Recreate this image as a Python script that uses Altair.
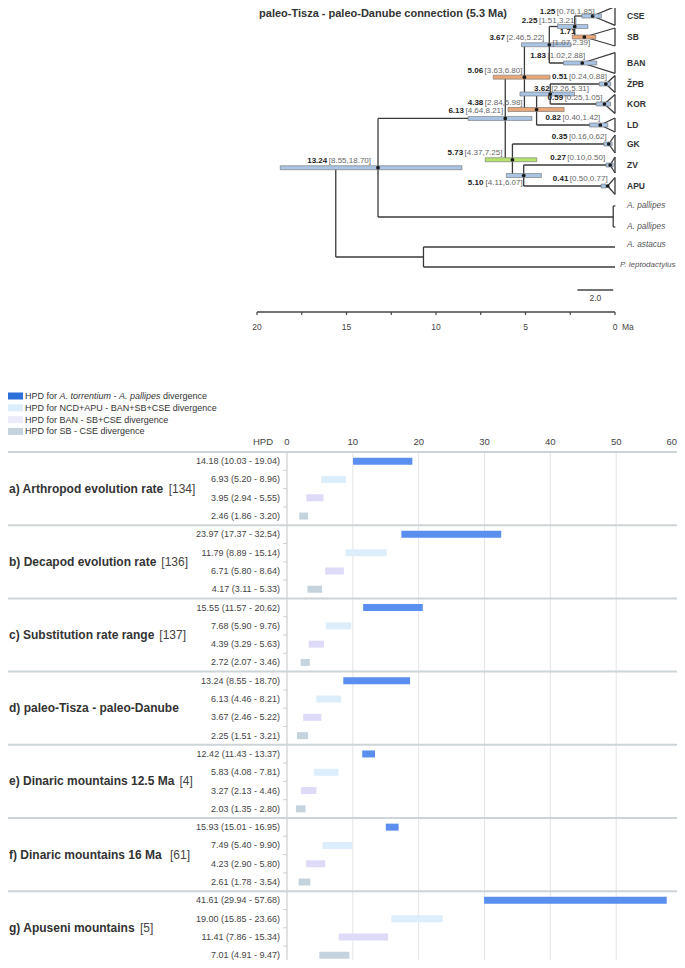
import altair as alt
import pandas as pd

FONT = "Liberation Sans"
W, H = 669, 952

# ---------------- tree data ----------------
clade_names = ["CSE", "SB", "BAN", "ŽPB", "KOR", "LD", "GK", "ZV", "APU"]
clade_age = [1.25, 1.71, 1.83, 0.51, 0.59, 0.82, 0.35, 0.27, 0.41]
clade_lo = [0.76, 1.07, 1.02, 0.24, 0.25, 0.40, 0.16, 0.10, 0.50]
clade_hi = [1.85, 2.39, 2.88, 0.88, 1.05, 1.42, 0.62, 0.50, 0.77]
clade_row = [0.4, 1.45, 2.75, 3.8, 4.8, 5.85, 6.8, 7.85, 8.9]
clade_spread = [0.47, 0.45, 0.52, 0.42, 0.47, 0.35, 0.45, 0.40, 0.42]
clade_color = ["blue", "orange", "blue", "blue", "blue", "blue", "blue", "blue", "blue"]

other_tips = ["A. pallipes", "A. astacus", "P. leptodactylus"]
other_age = [0.1, 0.0, 0.0]
other_row = [10.45, 11.95, 12.95]
pallipes_rows = [9.9, 10.95]

node_ids = ["n225", "n367", "n362", "n438", "n506", "n510", "n573", "n613", "n1324", "nout", "root"]
node_age = [2.25, 3.67, 3.62, 4.38, 5.06, 5.10, 5.73, 6.13, 13.24, 10.7, 15.6]
node_lo = [1.51, 2.46, 2.26, 2.84, 3.63, 4.11, 4.37, 4.64, 8.55, None, None]
node_hi = [3.21, 5.22, 5.31, 5.98, 6.80, 6.07, 7.25, 8.21, 18.70, None, None]
node_color = ["blue", "blue", "blue", "orange", "orange", "blue", "green", "blue", "blue", None, None]
node_children = [["CSE", "SB"], ["n225", "BAN"], ["ŽPB", "KOR"], ["n362", "LD"], ["n367", "n438"],
                 ["ZV", "APU"], ["GK", "n510"], ["n506", "n573"], ["n613", "A. pallipes"],
                 ["A. astacus", "P. leptodactylus"], ["n1324", "nout"]]

axis_major = [0, 5, 10, 15, 20]
axis_minor = [2.5, 7.5, 12.5, 17.5]
scale_bar = [2.1, 0.1]
tree_title = "paleo-Tisza - paleo-Danube connection (5.3 Ma)"

# ---------------- HPD comparison data ----------------
panel_titles = ["a) Arthropod evolution rate", "b) Decapod evolution rate", "c) Substitution rate range",
                "d) paleo-Tisza - paleo-Danube", "e) Dinaric mountains 12.5 Ma", "f)  Dinaric mountains 16 Ma",
                "g) Apuseni mountains"]
panel_refs = ["[134]", "[136]", "[137]", "", "[4]", "[61]", "[5]"]
hpd_median = [[14.18, 6.93, 3.95, 2.46], [23.97, 11.79, 6.71, 4.17], [15.55, 7.68, 4.39, 2.72],
              [13.24, 6.13, 3.67, 2.25], [12.42, 5.83, 3.27, 2.03], [15.93, 7.49, 4.23, 2.61],
              [41.61, 19.00, 11.41, 7.01]]
hpd_low = [[10.03, 5.20, 2.94, 1.86], [17.37, 8.89, 5.80, 3.11], [11.57, 5.90, 3.29, 2.07],
           [8.55, 4.46, 2.46, 1.51], [11.43, 4.08, 2.13, 1.35], [15.01, 5.40, 2.90, 1.78],
           [29.94, 15.85, 7.86, 4.91]]
hpd_high = [[19.04, 8.96, 5.55, 3.20], [32.54, 15.14, 8.64, 5.33], [20.62, 9.76, 5.63, 3.46],
            [18.70, 8.21, 5.22, 3.21], [13.37, 7.81, 4.46, 2.80], [16.95, 9.90, 5.80, 3.54],
            [57.68, 23.66, 15.34, 9.47]]
hpd_ticks = [0, 10, 20, 30, 40, 50, 60]
legend_segments = [
    [("HPD for ", "normal"), ("A. torrentium", "italic"), (" - ", "normal"), ("A. pallipes", "italic"),
     (" divergence", "normal")],
    [("HPD for NCD+APU - BAN+SB+CSE divergence", "normal")],
    [("HPD for BAN - SB+CSE divergence", "normal")],
    [("HPD for SB - CSE divergence", "normal")],
]

# ---------------- styles ----------------
hpd_tree_colors = {"blue": "#a9c4e4", "orange": "#e9a679", "green": "#b6e36c"}
series_colors = ["#5a8ff0", "#dcedfb", "#dddbf8", "#c5d3df"]
legend_colors = ["#2c6fd8", "#dcedfb", "#ecebfb", "#c5d3df"]

# text width estimator (Arial / Liberation Sans metrics)
REG = {c: 556 for c in "0123456789"}
REG.update({' ': 278, '(': 333, ')': 333, '+': 584, ',': 278, '-': 333, '.': 278, '[': 278, ']': 278})
REG.update(dict(zip("ABCDEFGHIJKLMNOPQRSTUVWXYZ",
                    [667, 667, 722, 722, 667, 611, 778, 722, 278, 500, 667, 556, 833, 722, 778, 667, 778, 722, 667,
                     611, 722, 667, 944, 667, 667, 611])))
REG.update(dict(zip("abcdefghijklmnopqrstuvwxyz",
                    [556, 556, 500, 556, 556, 278, 556, 556, 222, 222, 500, 222, 833, 556, 556, 556, 556, 333, 500,
                     278, 556, 500, 722, 500, 500, 500])))
BLD = {c: 556 for c in "0123456789"}
BLD.update({' ': 278, '(': 333, ')': 333, '+': 584, ',': 278, '-': 333, '.': 278, '[': 333, ']': 333})
BLD.update(dict(zip("ABCDEFGHIJKLMNOPQRSTUVWXYZ",
                    [722, 722, 722, 722, 667, 611, 778, 722, 278, 556, 722, 611, 833, 722, 778, 667, 778, 722, 667,
                     611, 722, 667, 944, 667, 667, 611])))
BLD.update(dict(zip("abcdefghijklmnopqrstuvwxyz",
                    [556, 611, 556, 611, 556, 333, 611, 611, 278, 278, 556, 278, 889, 611, 611, 611, 611, 389, 556,
                     333, 611, 556, 778, 556, 556, 500])))


def tw(s, size, bold=False):
    t = BLD if bold else REG
    return sum(t.get(ch, 556) for ch in s) * size / 1000.0


# ---------------- scales ----------------
MA = alt.Scale(domain=[0, 20], range=[607, 249], nice=False, zero=False)
TY = alt.Scale(domain=[0, 20], range=[0, 400], nice=False, zero=False)
HX = alt.Scale(domain=[0, 60], range=[279, 674], nice=False, zero=False)
BAND = 18.3
RY = alt.Scale(domain=[0, 28], range=[444, 444 + 28 * BAND], nice=False, zero=False)
PX_PER_MA = (607 - 249) / 20.0


def xm(f):
    return alt.X(f, type="quantitative", scale=MA, axis=None)


def ym(f):
    return alt.Y(f, type="quantitative", scale=TY, axis=None)


def xh(f):
    return alt.X(f, type="quantitative", scale=HX, axis=None)


def yr(f):
    return alt.Y(f, type="quantitative", scale=RY, axis=None)


# ---------------- tree geometry ----------------
pos = {}
for n, a, r in zip(clade_names, clade_age, clade_row):
    pos[n] = (a, r)
for n, a, r in zip(other_tips, other_age, other_row):
    pos[n] = (a, r)
for nid, a, ch in zip(node_ids, node_age, node_children):
    pos[nid] = (a, sum(pos[c][1] for c in ch) / len(ch))

segs = []
for nid, ch in zip(node_ids, node_children):
    a, r = pos[nid]
    rows = [pos[c][1] for c in ch]
    segs.append((a, a, min(rows), max(rows)))
    for c in ch:
        segs.append((a, pos[c][0], pos[c][1], pos[c][1]))
for n, s in zip(clade_names, clade_spread):
    a, r = pos[n]
    segs += [(a, 0, r, r - s), (a, 0, r, r + s), (0, 0, r - s, r + s)]
pa = pos["A. pallipes"][0]
segs.append((pa, pa, pallipes_rows[0], pallipes_rows[1]))
for pr in pallipes_rows:
    segs.append((pa, pa - 0.12, pr, pr))
seg_df = pd.DataFrame(segs, columns=["x1", "x2", "y1", "y2"])

tree_lines = alt.Chart(seg_df).mark_rule(color="#3a3a3a", strokeWidth=1.3).encode(
    x=xm("x1"), x2="x2", y=ym("y1"), y2="y2")

# HPD bars on the tree
hpd_rows = []
for n, a, lo, hi, c in zip(clade_names, clade_age, clade_lo, clade_hi, clade_color):
    hpd_rows.append((n, a, pos[n][1], lo, hi, hpd_tree_colors[c]))
for nid, a, lo, hi, c in zip(node_ids, node_age, node_lo, node_hi, node_color):
    if lo is not None:
        hpd_rows.append((nid, a, pos[nid][1], lo, hi, hpd_tree_colors[c]))
hpd_df = pd.DataFrame(hpd_rows, columns=["id", "age", "row", "lo", "hi", "col"])

tree_hpd = alt.Chart(hpd_df).mark_rect(stroke="#707070", strokeWidth=0.6, yOffset=-2, y2Offset=2).encode(
    x=xm("lo"), x2="hi", y=ym("row"), y2="row", color=alt.Color("col:N", scale=None))
tree_dots = alt.Chart(hpd_df).mark_circle(size=14, color="#1a1a1a", opacity=1).encode(
    x=xm("age"), y=ym("row"))

# node labels: (placement, horizontal shift in px, vertical offset in rows)
label_mode = {"CSE": ("above", 2, -0.2), "SB": ("split", 0, 0), "BAN": ("above", 3, -0.33),
              "ŽPB": ("above", 1, -0.33), "KOR": ("above", -2, -0.3), "LD": ("above", 0, -0.33),
              "GK": ("above", -2, -0.33), "ZV": ("above", -5, -0.33), "APU": ("above", 0, -0.33),
              "n225": ("above", 2, -0.3), "n367": ("above", -5, -0.33), "n362": ("leftanchor", 0, -0.27),
              "n438": ("above", -14, -0.33), "n506": ("above", -2, -0.33), "n510": ("below", -1, 0.36),
              "n573": ("above", -10, -0.33), "n613": ("above", -2, -0.36), "n1324": ("above", -7, -0.33)}
FS_T = 8
bold_lab, br_lab = [], []
for _, rw in hpd_df.iterrows():
    br = "[%.2f,%.2f]" % (rw.lo, rw.hi)
    bt = "%.2f" % rw.age
    wb = tw(br, FS_T)
    mode, shift, dy = label_mode[rw.id]
    if mode == "split":
        bold_lab.append((bt, rw.age + 9 / PX_PER_MA, rw.row - 0.27))
        br_lab.append((br, rw.age + (32 - wb) / PX_PER_MA, rw.row + 0.3))
        continue
    if mode == "leftanchor":
        right = rw.age - (wb + 1) / PX_PER_MA
    else:
        right = rw.age - shift / PX_PER_MA
    yy = rw.row + dy
    br_lab.append((br, right, yy))
    bold_lab.append((bt, right + (wb + 1.5) / PX_PER_MA, yy))
bold_df = pd.DataFrame(bold_lab, columns=["t", "x", "y"])
br_df = pd.DataFrame(br_lab, columns=["t", "x", "y"])

tree_bold = alt.Chart(bold_df).mark_text(font=FONT, fontSize=FS_T, fontWeight="bold", align="right",
                                         baseline="middle", color="#222222").encode(
    x=xm("x"), y=ym("y"), text="t:N")
tree_br = alt.Chart(br_df).mark_text(font=FONT, fontSize=FS_T, align="right", baseline="middle",
                                     color="#666666").encode(x=xm("x"), y=ym("y"), text="t:N")

tip_df = pd.DataFrame({"name": clade_names, "row": clade_row, "age": [0] * len(clade_names)})
tip_text = alt.Chart(tip_df).mark_text(font=FONT, fontSize=8.5, fontWeight="bold", align="left", dx=12,
                                       baseline="middle", color="#333333").encode(
    x=xm("age"), y=ym("row"), text="name:N")
it_df = pd.DataFrame({"name": [other_tips[0], other_tips[0], other_tips[1]],
                      "row": [pallipes_rows[0], pallipes_rows[1], other_row[1] - 0.12],
                      "age": [0, 0, 0]})
it_text = alt.Chart(it_df).mark_text(font=FONT, fontSize=8.3, fontStyle="italic", align="left", dx=12,
                                     baseline="middle", color="#555555").encode(
    x=xm("age"), y=ym("row"), text="name:N")
it_text2 = alt.Chart(pd.DataFrame({"name": [other_tips[2]], "row": [other_row[2] - 0.08], "age": [0]})).mark_text(
    font=FONT, fontSize=8, fontStyle="italic", align="left", dx=5, baseline="middle", color="#555555").encode(
    x=xm("age"), y=ym("row"), text="name:N")

# time axis
AX_ROW, AX_LAB_ROW, SB_ROW, SB_LAB_ROW = 15.2, 15.95, 14.1, 14.5
ax_line = alt.Chart(pd.DataFrame({"a": [axis_major[-1]], "b": [axis_major[0]], "r": [AX_ROW]})).mark_rule(
    color="#444444", strokeWidth=1.5).encode(x=xm("a"), x2="b", y=ym("r"), y2="r")
tick_df = pd.DataFrame({"t": axis_major + axis_minor, "r": [AX_ROW] * 9})
ax_ticks = alt.Chart(tick_df).mark_rule(color="#444444", strokeWidth=1.2, y2Offset=3).encode(
    x=xm("t"), y=ym("r"), y2="r")
lab_df = pd.DataFrame({"t": axis_major, "s": [str(v) for v in axis_major], "r": [AX_LAB_ROW] * 5})
ax_labels = alt.Chart(lab_df).mark_text(font=FONT, fontSize=8.5, baseline="middle", color="#444444").encode(
    x=xm("t"), y=ym("r"), text="s:N")
ma_label = alt.Chart(pd.DataFrame({"t": [0], "r": [AX_LAB_ROW], "s": ["Ma"]})).mark_text(
    font=FONT, fontSize=8.5, align="left", dx=7, baseline="middle", color="#444444").encode(
    x=xm("t"), y=ym("r"), text="s:N")
sb_line = alt.Chart(pd.DataFrame({"a": [scale_bar[0]], "b": [scale_bar[1]], "r": [SB_ROW]})).mark_rule(
    color="#444444", strokeWidth=1.3).encode(x=xm("a"), x2="b", y=ym("r"), y2="r")
sb_label = alt.Chart(pd.DataFrame({"t": [(scale_bar[0] + scale_bar[1]) / 2], "r": [SB_LAB_ROW],
                                   "s": ["%.1f" % (scale_bar[0] - scale_bar[1])]})).mark_text(
    font=FONT, fontSize=8.5, baseline="middle", color="#444444").encode(x=xm("t"), y=ym("r"), text="s:N")
title = alt.Chart(pd.DataFrame({"s": [tree_title]})).mark_text(
    font=FONT, fontSize=11, fontWeight="bold", align="right", baseline="top", color="#333333").encode(
    x=alt.value(499), y=alt.value(0), text="s:N")

# ---------------- HPD comparison panels ----------------
bar_rows = []
for k in range(len(panel_titles)):
    for j in range(4):
        m, lo, hi = hpd_median[k][j], hpd_low[k][j], hpd_high[k][j]
        bar_rows.append((4 * k + j + 0.5, lo, hi, series_colors[j], "%.2f (%.2f - %.2f)" % (m, lo, hi)))
bar_df = pd.DataFrame(bar_rows, columns=["row", "lo", "hi", "col", "lab"])

sep_df = pd.DataFrame({"r": [4 * k for k in range(len(panel_titles) + 1)]})
separators = alt.Chart(sep_df).mark_rule(color="#cdd4d8", strokeWidth=2).encode(
    x=alt.value(0), x2=alt.value(W), y=yr("r"))
grid_df = pd.DataFrame({"t": hpd_ticks, "r0": [0] * 7, "r1": [28] * 7})
grid = alt.Chart(grid_df).mark_rule(color="#e4e4e4", strokeWidth=1).encode(
    x=xh("t"), y=yr("r0"), y2="r1")
zero_line = alt.Chart(pd.DataFrame({"t": [0], "r0": [0], "r1": [28]})).mark_rule(
    color="#d2d2d2", strokeWidth=1).encode(x=xh("t"), y=yr("r0"), y2="r1")
bt_df = pd.DataFrame({"r": [r for r in range(1, 28) if r % 4 != 0], "t": 0})
band_ticks = alt.Chart(bt_df).mark_rule(color="#d2d2d2", strokeWidth=1, x2Offset=-4).encode(
    x=xh("t"), x2="t", y=yr("r"))
bars = alt.Chart(bar_df).mark_rect(yOffset=-3.5, y2Offset=3.5).encode(
    x=xh("lo"), x2="hi", y=yr("row"), y2="row", color=alt.Color("col:N", scale=None))
row_labels = alt.Chart(bar_df).mark_text(font=FONT, fontSize=9, align="right", baseline="middle",
                                         color="#444444").encode(x=alt.value(272), y=yr("row"), text="lab:N")

pt_rows = []
for k, (t, rf) in enumerate(zip(panel_titles, panel_refs)):
    pt_rows.append((t, 1, 4 * k + 2, "bold"))
    if rf:
        pt_rows.append((rf, 1 + tw(t, 12, True) + 5, 4 * k + 2, "normal"))
pt_df = pd.DataFrame(pt_rows, columns=["t", "px", "row", "w"])
panel_bold = alt.Chart(pt_df[pt_df.w == "bold"]).mark_text(
    font=FONT, fontSize=12, fontWeight="bold", align="left", baseline="middle", color="#333333").encode(
    x=alt.X("px:Q", scale=None, axis=None), y=yr("row"), text="t:N")
panel_ref = alt.Chart(pt_df[pt_df.w == "normal"]).mark_text(
    font=FONT, fontSize=12, align="left", baseline="middle", color="#444444").encode(
    x=alt.X("px:Q", scale=None, axis=None), y=yr("row"), text="t:N")

AXY = 434
hx_df = pd.DataFrame({"t": hpd_ticks[:-1], "s": [str(v) for v in hpd_ticks[:-1]]})
hpd_axis = alt.Chart(hx_df).mark_text(font=FONT, fontSize=9.5, baseline="middle", color="#444444").encode(
    x=xh("t"), y=alt.value(AXY), text="s:N")
hpd_axis_last = alt.Chart(pd.DataFrame({"s": [str(hpd_ticks[-1])]})).mark_text(
    font=FONT, fontSize=9.5, align="right", baseline="middle", color="#444444").encode(
    x=alt.value(W), y=alt.value(AXY), text="s:N")
hpd_title = alt.Chart(pd.DataFrame({"s": ["HPD"]})).mark_text(
    font=FONT, fontSize=9.5, align="right", baseline="middle", color="#444444").encode(
    x=alt.value(265), y=alt.value(AXY), text="s:N")

# legend
LEG_Y0, LEG_DY, LEG_FS = 388, 11.8, 9
sw_df = pd.DataFrame({"y": [LEG_Y0 + i * LEG_DY for i in range(4)], "col": legend_colors})
leg_sw = alt.Chart(sw_df).mark_rect(yOffset=-3.5, y2Offset=3.5).encode(
    x=alt.value(0), x2=alt.value(15), y=alt.Y("y:Q", scale=None, axis=None), y2="y",
    color=alt.Color("col:N", scale=None))
lt_rows = []
for i, segsl in enumerate(legend_segments):
    xx = 17
    for s, st in segsl:
        lead = len(s) - len(s.lstrip(" "))
        lt_rows.append((s.strip(" "), xx + tw(" " * lead, LEG_FS), LEG_Y0 + i * LEG_DY, st))
        xx += tw(s, LEG_FS)
lt_df = pd.DataFrame(lt_rows, columns=["t", "px", "y", "st"])
leg_norm = alt.Chart(lt_df[lt_df.st == "normal"]).mark_text(
    font=FONT, fontSize=LEG_FS, align="left", baseline="middle", color="#333333").encode(
    x=alt.X("px:Q", scale=None, axis=None), y=alt.Y("y:Q", scale=None, axis=None), text="t:N")
leg_it = alt.Chart(lt_df[lt_df.st == "italic"]).mark_text(
    font=FONT, fontSize=LEG_FS, fontStyle="italic", align="left", baseline="middle", color="#333333").encode(
    x=alt.X("px:Q", scale=None, axis=None), y=alt.Y("y:Q", scale=None, axis=None), text="t:N")

chart = alt.layer(
    tree_lines, tree_hpd, tree_dots, tree_bold, tree_br, tip_text, it_text, it_text2,
    ax_line, ax_ticks, ax_labels, ma_label, sb_line, sb_label, title,
    grid, zero_line, band_ticks, separators, bars, row_labels, panel_bold, panel_ref,
    hpd_axis, hpd_axis_last, hpd_title, leg_sw, leg_norm, leg_it,
).resolve_scale(x="independent", y="independent").properties(
    width=W, height=H, autosize=alt.AutoSizeParams(type="none"), padding=0, background="white"
).configure_view(stroke=None)

chart.save("out.html", embed_options={"renderer": "svg", "actions": False})
